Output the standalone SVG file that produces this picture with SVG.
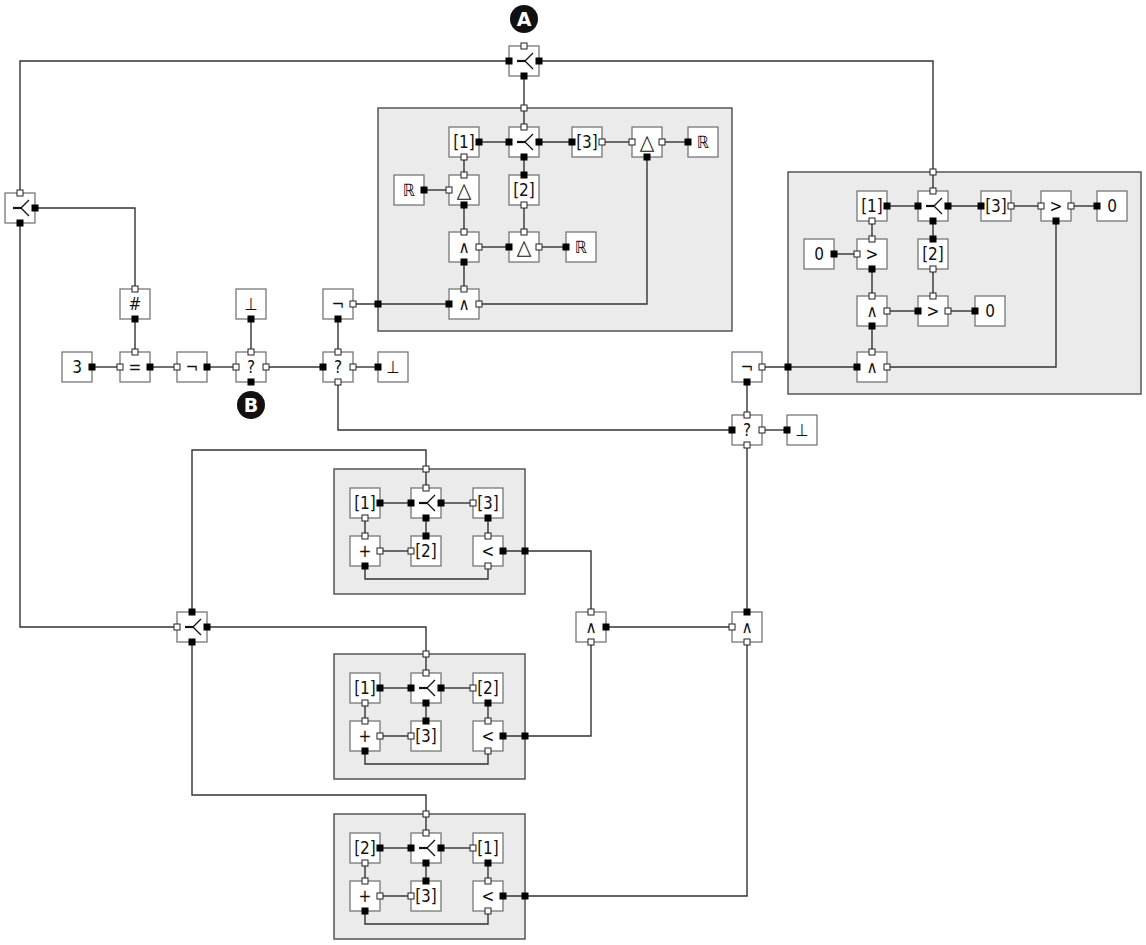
<svg xmlns="http://www.w3.org/2000/svg" xmlns:xlink="http://www.w3.org/1999/xlink" width="1146" height="945" viewBox="0 0 1146 945">
<style>
.box{fill:#ebebeb;stroke:#555;stroke-width:1.5}
.nb{fill:#fff;stroke:#777;stroke-width:1.3}
.pb{fill:#000;stroke:#000;stroke-width:1}
.pw{fill:#fff;stroke:#222;stroke-width:1}
text{font-family:"DejaVu Sans Condensed","DejaVu Sans","Noto Sans",sans-serif;font-size:17px;text-anchor:middle;dominant-baseline:central;fill:#111}
.tri{font-size:21px}
.lbl circle{fill:#111}
.lbl text{fill:#fff;font-family:"DejaVu Sans",sans-serif;font-weight:bold;font-size:19px}
#connectors path{fill:none;stroke:#333;stroke-width:1.4}
</style>
<defs>
<g id="fork">
<path d="M-7,0H1.5" fill="none" stroke="#111" stroke-width="2.2"/>
<path d="M1,0L9,-8M1,0L9,8" fill="none" stroke="#111" stroke-width="1.3"/>
</g>
</defs>
<rect width="1146" height="945" fill="#fff"/>

<g id="boxes">
<g id="box1"><rect class="box" x="378" y="108" width="354" height="223"/></g>
<g id="box2"><rect class="box" x="788" y="172" width="353" height="222"/></g>
<g id="box3"><rect class="box" x="334" y="469" width="191" height="125"/></g>
<g id="box4"><rect class="box" x="334" y="654" width="191" height="125"/></g>
<g id="box5"><rect class="box" x="334" y="814" width="191" height="125"/></g>
</g>

<g id="connectors">
<path d="M509,61H20V193"/>
<path d="M539,61H933V191"/>
<path d="M524,76V127"/>
<path d="M35,208H135V289"/>
<path d="M135,319V352"/>
<path d="M92,367H120"/>
<path d="M150,367H177"/>
<path d="M207,367H236"/>
<path d="M251,319V352"/>
<path d="M266,367H323"/>
<path d="M338,319V352"/>
<path d="M353,367H378"/>
<path d="M338,382V430H732"/>
<path d="M353,304H449"/>
<path d="M20,223V627H177"/>
<path d="M479,142H509"/>
<path d="M539,142H572"/>
<path d="M602,142H632"/>
<path d="M662,142H688"/>
<path d="M464,157V175"/>
<path d="M424,190H449"/>
<path d="M524,157V175"/>
<path d="M464,205V232"/>
<path d="M524,205V232"/>
<path d="M479,247H509"/>
<path d="M539,247H566"/>
<path d="M464,262V289"/>
<path d="M479,304H647V157"/>
<path d="M887,206H918"/>
<path d="M948,206H981"/>
<path d="M1011,206H1041"/>
<path d="M1071,206H1097"/>
<path d="M872,221V239"/>
<path d="M834,254H857"/>
<path d="M933,221V239"/>
<path d="M872,269V296"/>
<path d="M933,269V296"/>
<path d="M887,311H918"/>
<path d="M948,311H975"/>
<path d="M872,326V352"/>
<path d="M887,367H1056V221"/>
<path d="M762,367H857"/>
<path d="M747,382V415"/>
<path d="M762,430H787"/>
<path d="M747,445V612"/>
<path d="M606,627H732"/>
<path d="M192,612V450H426V488"/>
<path d="M380,503H411"/>
<path d="M441,503H473"/>
<path d="M365,518V536"/>
<path d="M426,518V536"/>
<path d="M488,518V536"/>
<path d="M380,551H411"/>
<path d="M365,566V579H488V566"/>
<path d="M503,551H591V612"/>
<path d="M207,627H426V673"/>
<path d="M380,688H411"/>
<path d="M441,688H473"/>
<path d="M365,703V721"/>
<path d="M426,703V721"/>
<path d="M488,703V721"/>
<path d="M380,736H411"/>
<path d="M365,751V764H488V751"/>
<path d="M503,736H591V642"/>
<path d="M192,642V795H426V833"/>
<path d="M380,848H411"/>
<path d="M441,848H473"/>
<path d="M365,863V881"/>
<path d="M426,863V881"/>
<path d="M488,863V881"/>
<path d="M380,896H411"/>
<path d="M365,911V924H488V911"/>
<path d="M503,896H747V642"/>
</g>

<g id="box-ports">
<rect class="pw" x="521" y="105" width="6" height="6"/>
<rect class="pb" x="375" y="301" width="6" height="6"/>
<rect class="pw" x="930" y="169" width="6" height="6"/>
<rect class="pb" x="785" y="364" width="6" height="6"/>
<rect class="pw" x="423" y="466" width="6" height="6"/>
<rect class="pb" x="522" y="548" width="6" height="6"/>
<rect class="pw" x="423" y="651" width="6" height="6"/>
<rect class="pb" x="522" y="733" width="6" height="6"/>
<rect class="pw" x="423" y="811" width="6" height="6"/>
<rect class="pb" x="522" y="893" width="6" height="6"/>
</g>

<g id="labelA" class="lbl"><circle cx="524" cy="19" r="14"/><text x="524" y="19">A</text></g>
<g id="labelB" class="lbl"><circle cx="251" cy="405" r="14"/><text x="251" y="405">B</text></g>

<g id="forkA"><rect class="nb" x="509" y="46" width="30" height="30"/><use xlink:href="#fork" href="#fork" x="524" y="61"/>
<rect class="pw" x="521" y="43" width="6" height="6"/><rect class="pb" x="506" y="58" width="6" height="6"/><rect class="pb" x="536" y="58" width="6" height="6"/><rect class="pb" x="521" y="73" width="6" height="6"/></g>
<g id="forkL"><rect class="nb" x="5" y="193" width="30" height="30"/><use xlink:href="#fork" href="#fork" x="20" y="208"/>
<rect class="pw" x="17" y="190" width="6" height="6"/><rect class="pb" x="32" y="205" width="6" height="6"/><rect class="pb" x="17" y="220" width="6" height="6"/></g>
<g id="hash"><rect class="nb" x="120" y="289" width="30" height="30"/><text x="135" y="304">#</text>
<rect class="pw" x="132" y="286" width="6" height="6"/><rect class="pb" x="132" y="316" width="6" height="6"/></g>
<g id="three"><rect class="nb" x="62" y="352" width="30" height="30"/><text x="77" y="367">3</text>
<rect class="pb" x="89" y="364" width="6" height="6"/></g>
<g id="eq"><rect class="nb" x="120" y="352" width="30" height="30"/><text x="135" y="367">=</text>
<rect class="pw" x="117" y="364" width="6" height="6"/><rect class="pw" x="132" y="349" width="6" height="6"/><rect class="pb" x="147" y="364" width="6" height="6"/></g>
<g id="not1"><rect class="nb" x="177" y="352" width="30" height="30"/><text x="192" y="367">¬</text>
<rect class="pw" x="174" y="364" width="6" height="6"/><rect class="pb" x="204" y="364" width="6" height="6"/></g>
<g id="q1"><rect class="nb" x="236" y="352" width="30" height="30"/><text x="251" y="367">?</text>
<rect class="pw" x="233" y="364" width="6" height="6"/><rect class="pw" x="248" y="349" width="6" height="6"/><rect class="pw" x="263" y="364" width="6" height="6"/><rect class="pb" x="248" y="379" width="6" height="6"/></g>
<g id="bot1"><rect class="nb" x="236" y="289" width="30" height="30"/><text x="251" y="304">⊥</text>
<rect class="pb" x="248" y="316" width="6" height="6"/></g>
<g id="not2"><rect class="nb" x="323" y="289" width="30" height="30"/><text x="338" y="304">¬</text>
<rect class="pw" x="350" y="301" width="6" height="6"/><rect class="pb" x="335" y="316" width="6" height="6"/></g>
<g id="q2"><rect class="nb" x="323" y="352" width="30" height="30"/><text x="338" y="367">?</text>
<rect class="pb" x="320" y="364" width="6" height="6"/><rect class="pw" x="335" y="349" width="6" height="6"/><rect class="pw" x="350" y="364" width="6" height="6"/><rect class="pw" x="335" y="379" width="6" height="6"/></g>
<g id="bot2"><rect class="nb" x="378" y="352" width="30" height="30"/><text x="393" y="367">⊥</text>
<rect class="pb" x="375" y="364" width="6" height="6"/></g>

<g id="b1-i1"><rect class="nb" x="449" y="127" width="30" height="30"/><text x="464" y="142">[1]</text>
<rect class="pb" x="476" y="139" width="6" height="6"/><rect class="pw" x="461" y="154" width="6" height="6"/></g>
<g id="b1-fork"><rect class="nb" x="509" y="127" width="30" height="30"/><use xlink:href="#fork" href="#fork" x="524" y="142"/>
<rect class="pw" x="521" y="124" width="6" height="6"/><rect class="pb" x="506" y="139" width="6" height="6"/><rect class="pb" x="536" y="139" width="6" height="6"/><rect class="pb" x="521" y="154" width="6" height="6"/></g>
<g id="b1-i3"><rect class="nb" x="572" y="127" width="30" height="30"/><text x="587" y="142">[3]</text>
<rect class="pb" x="569" y="139" width="6" height="6"/><rect class="pw" x="599" y="139" width="6" height="6"/></g>
<g id="b1-tri1"><rect class="nb" x="632" y="127" width="30" height="30"/><text class="tri" x="647" y="142">△</text>
<rect class="pw" x="629" y="139" width="6" height="6"/><rect class="pw" x="659" y="139" width="6" height="6"/><rect class="pb" x="644" y="154" width="6" height="6"/></g>
<g id="b1-R1"><rect class="nb" x="688" y="127" width="30" height="30"/><text x="703" y="142">ℝ</text>
<rect class="pb" x="685" y="139" width="6" height="6"/></g>
<g id="b1-R2"><rect class="nb" x="394" y="175" width="30" height="30"/><text x="409" y="190">ℝ</text>
<rect class="pb" x="421" y="187" width="6" height="6"/></g>
<g id="b1-tri2"><rect class="nb" x="449" y="175" width="30" height="30"/><text class="tri" x="464" y="190">△</text>
<rect class="pw" x="461" y="172" width="6" height="6"/><rect class="pw" x="446" y="187" width="6" height="6"/><rect class="pb" x="461" y="202" width="6" height="6"/></g>
<g id="b1-i2"><rect class="nb" x="509" y="175" width="30" height="30"/><text x="524" y="190">[2]</text>
<rect class="pb" x="521" y="172" width="6" height="6"/><rect class="pw" x="521" y="202" width="6" height="6"/></g>
<g id="b1-and1"><rect class="nb" x="449" y="232" width="30" height="30"/><text x="464" y="247">∧</text>
<rect class="pw" x="461" y="229" width="6" height="6"/><rect class="pw" x="476" y="244" width="6" height="6"/><rect class="pb" x="461" y="259" width="6" height="6"/></g>
<g id="b1-tri3"><rect class="nb" x="509" y="232" width="30" height="30"/><text class="tri" x="524" y="247">△</text>
<rect class="pw" x="521" y="229" width="6" height="6"/><rect class="pb" x="506" y="244" width="6" height="6"/><rect class="pw" x="536" y="244" width="6" height="6"/></g>
<g id="b1-R3"><rect class="nb" x="566" y="232" width="30" height="30"/><text x="581" y="247">ℝ</text>
<rect class="pb" x="563" y="244" width="6" height="6"/></g>
<g id="b1-and2"><rect class="nb" x="449" y="289" width="30" height="30"/><text x="464" y="304">∧</text>
<rect class="pw" x="461" y="286" width="6" height="6"/><rect class="pb" x="446" y="301" width="6" height="6"/><rect class="pw" x="476" y="301" width="6" height="6"/></g>

<g id="b2-i1"><rect class="nb" x="857" y="191" width="30" height="30"/><text x="872" y="206">[1]</text>
<rect class="pb" x="884" y="203" width="6" height="6"/><rect class="pw" x="869" y="218" width="6" height="6"/></g>
<g id="b2-fork"><rect class="nb" x="918" y="191" width="30" height="30"/><use xlink:href="#fork" href="#fork" x="933" y="206"/>
<rect class="pw" x="930" y="188" width="6" height="6"/><rect class="pb" x="915" y="203" width="6" height="6"/><rect class="pb" x="945" y="203" width="6" height="6"/><rect class="pb" x="930" y="218" width="6" height="6"/></g>
<g id="b2-i3"><rect class="nb" x="981" y="191" width="30" height="30"/><text x="996" y="206">[3]</text>
<rect class="pb" x="978" y="203" width="6" height="6"/><rect class="pw" x="1008" y="203" width="6" height="6"/></g>
<g id="b2-gt1"><rect class="nb" x="1041" y="191" width="30" height="30"/><text x="1056" y="206">&gt;</text>
<rect class="pw" x="1038" y="203" width="6" height="6"/><rect class="pw" x="1068" y="203" width="6" height="6"/><rect class="pb" x="1053" y="218" width="6" height="6"/></g>
<g id="b2-z1"><rect class="nb" x="1097" y="191" width="30" height="30"/><text x="1112" y="206">0</text>
<rect class="pb" x="1094" y="203" width="6" height="6"/></g>
<g id="b2-z2"><rect class="nb" x="804" y="239" width="30" height="30"/><text x="819" y="254">0</text>
<rect class="pb" x="831" y="251" width="6" height="6"/></g>
<g id="b2-gt2"><rect class="nb" x="857" y="239" width="30" height="30"/><text x="872" y="254">&gt;</text>
<rect class="pw" x="869" y="236" width="6" height="6"/><rect class="pw" x="854" y="251" width="6" height="6"/><rect class="pb" x="869" y="266" width="6" height="6"/></g>
<g id="b2-i2"><rect class="nb" x="918" y="239" width="30" height="30"/><text x="933" y="254">[2]</text>
<rect class="pb" x="930" y="236" width="6" height="6"/><rect class="pw" x="930" y="266" width="6" height="6"/></g>
<g id="b2-and1"><rect class="nb" x="857" y="296" width="30" height="30"/><text x="872" y="311">∧</text>
<rect class="pw" x="869" y="293" width="6" height="6"/><rect class="pw" x="884" y="308" width="6" height="6"/><rect class="pb" x="869" y="323" width="6" height="6"/></g>
<g id="b2-gt3"><rect class="nb" x="918" y="296" width="30" height="30"/><text x="933" y="311">&gt;</text>
<rect class="pw" x="930" y="293" width="6" height="6"/><rect class="pb" x="915" y="308" width="6" height="6"/><rect class="pw" x="945" y="308" width="6" height="6"/></g>
<g id="b2-z3"><rect class="nb" x="975" y="296" width="30" height="30"/><text x="990" y="311">0</text>
<rect class="pb" x="972" y="308" width="6" height="6"/></g>
<g id="b2-and2"><rect class="nb" x="857" y="352" width="30" height="30"/><text x="872" y="367">∧</text>
<rect class="pw" x="869" y="349" width="6" height="6"/><rect class="pb" x="854" y="364" width="6" height="6"/><rect class="pw" x="884" y="364" width="6" height="6"/></g>

<g id="not3"><rect class="nb" x="732" y="352" width="30" height="30"/><text x="747" y="367">¬</text>
<rect class="pw" x="759" y="364" width="6" height="6"/><rect class="pb" x="744" y="379" width="6" height="6"/></g>
<g id="q3"><rect class="nb" x="732" y="415" width="30" height="30"/><text x="747" y="430">?</text>
<rect class="pw" x="744" y="412" width="6" height="6"/><rect class="pb" x="729" y="427" width="6" height="6"/><rect class="pw" x="759" y="427" width="6" height="6"/><rect class="pw" x="744" y="442" width="6" height="6"/></g>
<g id="bot3"><rect class="nb" x="787" y="415" width="30" height="30"/><text x="802" y="430">⊥</text>
<rect class="pb" x="784" y="427" width="6" height="6"/></g>

<g id="and-a"><rect class="nb" x="576" y="612" width="30" height="30"/><text x="591" y="627">∧</text>
<rect class="pw" x="588" y="609" width="6" height="6"/><rect class="pb" x="603" y="624" width="6" height="6"/><rect class="pw" x="588" y="639" width="6" height="6"/></g>
<g id="and-b"><rect class="nb" x="732" y="612" width="30" height="30"/><text x="747" y="627">∧</text>
<rect class="pb" x="744" y="609" width="6" height="6"/><rect class="pw" x="729" y="624" width="6" height="6"/><rect class="pw" x="744" y="639" width="6" height="6"/></g>
<g id="forkM"><rect class="nb" x="177" y="612" width="30" height="30"/><use xlink:href="#fork" href="#fork" x="192" y="627"/>
<rect class="pw" x="174" y="624" width="6" height="6"/><rect class="pb" x="189" y="609" width="6" height="6"/><rect class="pb" x="204" y="624" width="6" height="6"/><rect class="pb" x="189" y="639" width="6" height="6"/></g>

<g id="b3-i1"><rect class="nb" x="350" y="488" width="30" height="30"/><text x="365" y="503">[1]</text>
<rect class="pb" x="377" y="500" width="6" height="6"/><rect class="pw" x="362" y="515" width="6" height="6"/></g>
<g id="b3-fork"><rect class="nb" x="411" y="488" width="30" height="30"/><use xlink:href="#fork" href="#fork" x="426" y="503"/>
<rect class="pw" x="423" y="485" width="6" height="6"/><rect class="pb" x="408" y="500" width="6" height="6"/><rect class="pb" x="438" y="500" width="6" height="6"/><rect class="pb" x="423" y="515" width="6" height="6"/></g>
<g id="b3-i3"><rect class="nb" x="473" y="488" width="30" height="30"/><text x="488" y="503">[3]</text>
<rect class="pw" x="470" y="500" width="6" height="6"/><rect class="pb" x="485" y="515" width="6" height="6"/></g>
<g id="b3-plus"><rect class="nb" x="350" y="536" width="30" height="30"/><text x="365" y="551">+</text>
<rect class="pw" x="362" y="533" width="6" height="6"/><rect class="pw" x="377" y="548" width="6" height="6"/><rect class="pb" x="362" y="563" width="6" height="6"/></g>
<g id="b3-i2"><rect class="nb" x="411" y="536" width="30" height="30"/><text x="426" y="551">[2]</text>
<rect class="pb" x="423" y="533" width="6" height="6"/><rect class="pw" x="408" y="548" width="6" height="6"/></g>
<g id="b3-lt"><rect class="nb" x="473" y="536" width="30" height="30"/><text x="488" y="551">&lt;</text>
<rect class="pw" x="485" y="533" width="6" height="6"/><rect class="pb" x="500" y="548" width="6" height="6"/><rect class="pw" x="485" y="563" width="6" height="6"/></g>

<g id="b4-i1"><rect class="nb" x="350" y="673" width="30" height="30"/><text x="365" y="688">[1]</text>
<rect class="pb" x="377" y="685" width="6" height="6"/><rect class="pw" x="362" y="700" width="6" height="6"/></g>
<g id="b4-fork"><rect class="nb" x="411" y="673" width="30" height="30"/><use xlink:href="#fork" href="#fork" x="426" y="688"/>
<rect class="pw" x="423" y="670" width="6" height="6"/><rect class="pb" x="408" y="685" width="6" height="6"/><rect class="pb" x="438" y="685" width="6" height="6"/><rect class="pb" x="423" y="700" width="6" height="6"/></g>
<g id="b4-i2"><rect class="nb" x="473" y="673" width="30" height="30"/><text x="488" y="688">[2]</text>
<rect class="pw" x="470" y="685" width="6" height="6"/><rect class="pb" x="485" y="700" width="6" height="6"/></g>
<g id="b4-plus"><rect class="nb" x="350" y="721" width="30" height="30"/><text x="365" y="736">+</text>
<rect class="pw" x="362" y="718" width="6" height="6"/><rect class="pw" x="377" y="733" width="6" height="6"/><rect class="pb" x="362" y="748" width="6" height="6"/></g>
<g id="b4-i3"><rect class="nb" x="411" y="721" width="30" height="30"/><text x="426" y="736">[3]</text>
<rect class="pb" x="423" y="718" width="6" height="6"/><rect class="pw" x="408" y="733" width="6" height="6"/></g>
<g id="b4-lt"><rect class="nb" x="473" y="721" width="30" height="30"/><text x="488" y="736">&lt;</text>
<rect class="pw" x="485" y="718" width="6" height="6"/><rect class="pb" x="500" y="733" width="6" height="6"/><rect class="pw" x="485" y="748" width="6" height="6"/></g>

<g id="b5-i2"><rect class="nb" x="350" y="833" width="30" height="30"/><text x="365" y="848">[2]</text>
<rect class="pb" x="377" y="845" width="6" height="6"/><rect class="pw" x="362" y="860" width="6" height="6"/></g>
<g id="b5-fork"><rect class="nb" x="411" y="833" width="30" height="30"/><use xlink:href="#fork" href="#fork" x="426" y="848"/>
<rect class="pw" x="423" y="830" width="6" height="6"/><rect class="pb" x="408" y="845" width="6" height="6"/><rect class="pb" x="438" y="845" width="6" height="6"/><rect class="pb" x="423" y="860" width="6" height="6"/></g>
<g id="b5-i1"><rect class="nb" x="473" y="833" width="30" height="30"/><text x="488" y="848">[1]</text>
<rect class="pw" x="470" y="845" width="6" height="6"/><rect class="pb" x="485" y="860" width="6" height="6"/></g>
<g id="b5-plus"><rect class="nb" x="350" y="881" width="30" height="30"/><text x="365" y="896">+</text>
<rect class="pw" x="362" y="878" width="6" height="6"/><rect class="pw" x="377" y="893" width="6" height="6"/><rect class="pb" x="362" y="908" width="6" height="6"/></g>
<g id="b5-i3"><rect class="nb" x="411" y="881" width="30" height="30"/><text x="426" y="896">[3]</text>
<rect class="pb" x="423" y="878" width="6" height="6"/><rect class="pw" x="408" y="893" width="6" height="6"/></g>
<g id="b5-lt"><rect class="nb" x="473" y="881" width="30" height="30"/><text x="488" y="896">&lt;</text>
<rect class="pw" x="485" y="878" width="6" height="6"/><rect class="pb" x="500" y="893" width="6" height="6"/><rect class="pw" x="485" y="908" width="6" height="6"/></g>
</svg>
